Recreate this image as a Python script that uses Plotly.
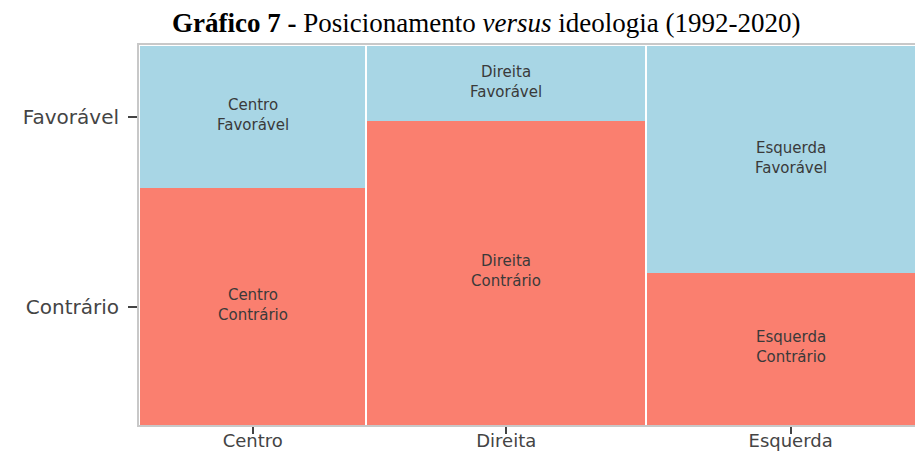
import plotly.graph_objects as go

# Data
ideologias = ["Centro", "Direita", "Esquerda"]
share_ideologia = [0.285, 0.352, 0.363]          # column widths (share of cases)
prop_contrario = [0.625, 0.802, 0.401]           # share "Contrário" within each column
prop_favoravel = [1 - p for p in prop_contrario]  # share "Favorável"
posicoes = ["Contrário", "Favorável"]

GAP = 0.0025
SALMON = "#FA7F6F"
LIGHTBLUE = "#A8D6E5"
SANS = "DejaVu Sans, Liberation Sans, Arial"

# column positions
lefts = []
acc = 0.0
for w in share_ideologia:
    lefts.append(acc)
    acc += w + GAP
centers = [l + w / 2 for l, w in zip(lefts, share_ideologia)]

fig = go.Figure()
fig.add_trace(go.Bar(x=centers, y=prop_contrario, width=share_ideologia,
                     marker=dict(color=SALMON, line=dict(width=0)),
                     name="Contrário", hoverinfo="skip"))
fig.add_trace(go.Bar(x=centers, y=prop_favoravel, width=share_ideologia,
                     marker=dict(color=LIGHTBLUE, line=dict(width=0)),
                     name="Favorável", hoverinfo="skip"))

annotations = []
lab_font = dict(family=SANS, size=15, color="#3a3a3a")
for i, ide in enumerate(ideologias):
    for pos, mid in (("Contrário", prop_contrario[i] / 2),
                     ("Favorável", prop_contrario[i] + prop_favoravel[i] / 2)):
        annotations.append(dict(x=centers[i], y=mid, xref="x", yref="y",
                                text=f"{ide}<br>{pos}",
                                showarrow=False, yshift=2, font=lab_font))

annotations.append(dict(
    text="<b>Gráfico 7 -</b> Posicionamento <i>versus</i> ideologia (1992-2020)",
    x=(486 - 139) / (915 - 139), y=1 + (45 - 23) / (452 - 45 - 27),
    xref="paper", yref="paper", showarrow=False,
    font=dict(family="Liberation Serif, Times New Roman", size=27, color="#000000"),
    xanchor="center", yanchor="middle"))

ytick_vals = [prop_contrario[0] / 2, prop_contrario[0] + prop_favoravel[0] / 2]

fig.update_layout(
    width=915, height=452,
    margin=dict(l=139, r=0, t=45, b=27, autoexpand=False),
    barmode="stack", bargap=0,
    showlegend=False,
    plot_bgcolor="white", paper_bgcolor="white",
    font=dict(family=SANS, color="#444444"),
    annotations=annotations,
)

fig.update_xaxes(range=[-0.0015, 0.981], tickvals=centers, ticktext=ideologias,
                 ticks="outside", ticklen=7, tickwidth=1.5, tickcolor="#444444",
                 tickfont=dict(size=18, color="#444444"), automargin=False,
                 ticklabelstandoff=-9,
                 showgrid=False, zeroline=False,
                 showline=True, linecolor="#C8C8C8", linewidth=2, mirror=True)
fig.update_yaxes(range=[0, 1.003], tickvals=ytick_vals, ticktext=posicoes,
                 ticks="outside", ticklen=9, tickwidth=1.5, tickcolor="#444444",
                 tickfont=dict(size=20, color="#444444"), automargin=False,
                 ticklabelstandoff=5,
                 showgrid=False, zeroline=False,
                 showline=True, linecolor="#C8C8C8", linewidth=2)

fig.write_html("out.html", config={"displayModeBar": False},
               post_script="document.body.style.margin='0';document.body.style.overflow='hidden';")
